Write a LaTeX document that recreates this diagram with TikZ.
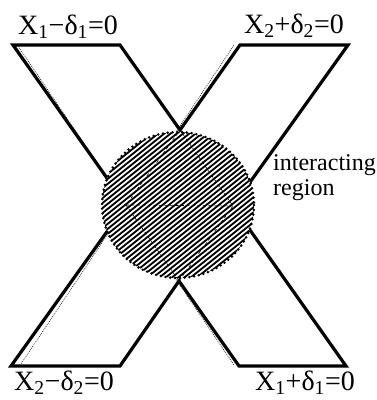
\documentclass[tikz,border=0pt]{standalone}
\usepackage{fontspec}
\setmainfont{Liberation Serif}
\begin{document}
\begin{tikzpicture}[x=1pt,y=-1pt,
  edge/.style={line width=3.2pt,line join=miter},
  guide/.style={line width=0.5pt,dash pattern=on 1pt off 1pt},
  inner/.style={line width=0.6pt,dash pattern=on 3pt off 2.5pt},
  rim/.style={line width=2.8pt,line cap=round,dash pattern=on 0pt off 4.8pt},
  hatch/.style={line width=1.8pt},
  eqlabel/.style={font=\fontsize{28}{30}\selectfont,inner sep=0pt,anchor=base},
  note/.style={font=\fontsize{24}{25}\selectfont,inner sep=0pt,align=left,anchor=base west}]
\useasboundingbox (0,0) rectangle (377,400);
% band corners
\coordinate (a1) at (13,45);   \coordinate (a2) at (120,45);
\coordinate (a3) at (346,366); \coordinate (a4) at (239,366);
\coordinate (b1) at (240,45);  \coordinate (b2) at (348,45);
\coordinate (b3) at (120,366); \coordinate (b4) at (11,366);
% crossing vertices
\coordinate (vt) at (180,130); \coordinate (vr) at (233,206);
\coordinate (vb) at (179,281); \coordinate (vl) at (126,205);
% thin dotted guides
\coordinate (d1s) at (18,46);  \coordinate (d1e) at (234,365);
\coordinate (d2s) at (234,45); \coordinate (d2e) at (21,364);
\draw[guide] (d1s) -- (d1e);
\draw[guide] (d2s) -- (d2e);
% X outline
\draw[edge] (a1) -- (a2) -- (vt) -- (b1) -- (b2) -- (vr) -- (a3) -- (a4)
  -- (vb) -- (b3) -- (b4) -- (vl) -- cycle;
% interacting region
\coordinate (c) at (178,205);
\fill[white] (c) ellipse [x radius=76, y radius=73];
\begin{scope}
  \clip (c) ellipse [x radius=76, y radius=73];
  \foreach \k in {150,155,...,480} {
    \draw[hatch] (50,\k) -- (310,\k-208);
  }
\end{scope}
\draw[inner] (vt) -- (vr) -- (vb) -- (vl) -- cycle;
\draw[inner] (vl) -- (vr);
\draw[rim] (c) ellipse [x radius=76, y radius=73];
% labels
\node[eqlabel] (l1) at (68,34) {X\textsubscript{1}−δ\textsubscript{1}=0};
\node[eqlabel] (l2) at (294,33) {X\textsubscript{2}+δ\textsubscript{2}=0};
\node[eqlabel] (l3) at (64,390) {X\textsubscript{2}−δ\textsubscript{2}=0};
\node[eqlabel] (l4) at (305,390) {X\textsubscript{1}+δ\textsubscript{1}=0};
\node[note] (reg) at (273,195) {interacting\\region};
\end{tikzpicture}
\end{document}
